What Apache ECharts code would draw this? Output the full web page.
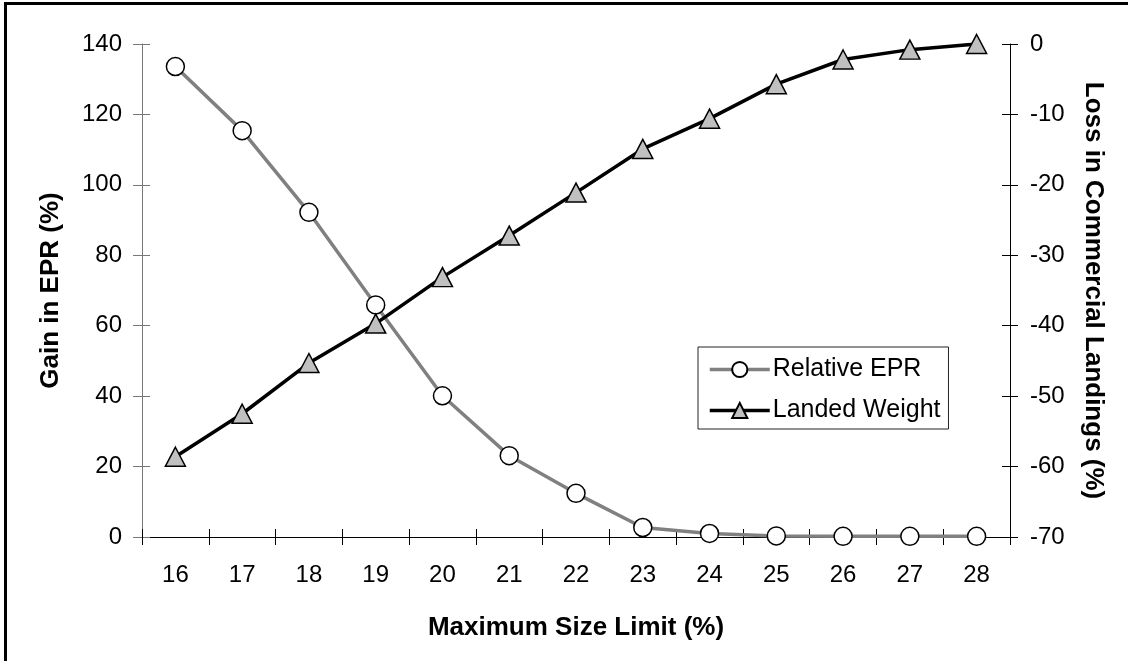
<!DOCTYPE html>
<html>
<head>
<meta charset="utf-8">
<script src="https://cdn.jsdelivr.net/npm/echarts@6/dist/echarts.min.js"></script>
<style>
html,body{margin:0;padding:0;background:#fff;}
#chart{width:1128px;height:661px;}
</style>
</head>
<body>
<div id="chart"></div>
<script>
const categories = ['16','17','18','19','20','21','22','23','24','25','26','27','28'];
const relativeEPR = [133.6, 115.4, 92.2, 65.9, 40.1, 23.1, 12.4, 2.7, 1.0, 0.3, 0.2, 0.2, 0.2];
const landedWeight = [-58.6, -52.5, -45.3, -39.7, -33.1, -27.2, -21.1, -14.9, -10.6, -5.7, -2.2, -0.8, 0];
const seriesNames = ['Relative EPR', 'Landed Weight'];

const FONT = 'Liberation Sans, Arial, sans-serif';
const chart = echarts.init(document.getElementById('chart'), null, {renderer: 'canvas'});

const gridPos = {left: 142, right: 118, top: 44, bottom: 124};
const titleStyle = {fontFamily: FONT, fontSize: 26, fontWeight: 'bold', color: '#000'};
const labelStyle = {fontFamily: FONT, fontSize: 24, color: '#000'};

const option = {
  backgroundColor: '#fff',
  animation: false,
  textStyle: {fontFamily: FONT, color: '#000'},
  graphic: [{
    type: 'rect',
    shape: {x: 5.5, y: 3.5, width: 1300, height: 800},
    style: {fill: 'none', stroke: '#000', lineWidth: 3},
    silent: true, z: 100
  }],
  grid: [Object.assign({}, gridPos), Object.assign({}, gridPos)],
  legend: {
    orient: 'vertical',
    left: 698, top: 347,
    data: seriesNames,
    backgroundColor: '#fff',
    borderColor: '#222', borderWidth: 1,
    padding: [10, 8, 6, 10],
    itemWidth: 60, itemHeight: 19, itemGap: 16,
    lineStyle: {width: 3.5},
    textStyle: {fontFamily: FONT, fontSize: 25, lineHeight: 25, color: '#000', padding: [0,0,0,-2]}
  },
  xAxis: [{
    type: 'category', data: categories, boundaryGap: true, gridIndex: 0,
    position: 'bottom',
    axisLine: {lineStyle: {color: '#000', width: 1}},
    axisTick: {show: true, length: 8, lineStyle: {color: '#000'}},
    axisLabel: Object.assign({margin: 26}, labelStyle),
    name: 'Maximum Size Limit (%)', nameLocation: 'middle', nameGap: 78,
    nameTextStyle: titleStyle
  }, {
    type: 'category', data: categories, boundaryGap: true, gridIndex: 1,
    position: 'bottom',
    axisLine: {show: false},
    axisTick: {show: true, inside: true, length: 8, lineStyle: {color: '#000'}},
    axisLabel: {show: false}
  }],
  yAxis: [{
    type: 'value', min: 0, max: 140, interval: 20, position: 'left', gridIndex: 0,
    axisLine: {show: true, lineStyle: {color: '#777', width: 1}},
    axisTick: {show: true, length: 9, lineStyle: {color: '#777'}},
    axisLabel: Object.assign({margin: 20}, labelStyle),
    splitLine: {show: false},
    name: 'Gain in EPR (%)', nameLocation: 'middle', nameGap: 78, nameRotate: 90,
    nameTextStyle: titleStyle
  }, {
    type: 'value', min: -70, max: 0, interval: 10, position: 'right', gridIndex: 0,
    axisLine: {show: true, lineStyle: {color: '#000', width: 1}},
    axisTick: {show: true, length: 8, lineStyle: {color: '#000'}},
    axisLabel: Object.assign({margin: 20}, labelStyle),
    splitLine: {show: false},
    name: 'Loss in Commercial Landings (%)', nameLocation: 'middle', nameGap: 70, nameRotate: -90,
    nameTextStyle: titleStyle
  }, {
    type: 'value', min: 0, max: 140, interval: 20, position: 'left', gridIndex: 1,
    axisLine: {show: false},
    axisTick: {show: true, inside: true, length: 8, lineStyle: {color: '#777'}},
    axisLabel: {show: false}, splitLine: {show: false}
  }, {
    type: 'value', min: -70, max: 0, interval: 10, position: 'right', gridIndex: 1,
    axisLine: {show: false},
    axisTick: {show: true, inside: true, length: 8, lineStyle: {color: '#000'}},
    axisLabel: {show: false}, splitLine: {show: false}
  }],
  series: [{
    name: seriesNames[0], type: 'line', xAxisIndex: 0, yAxisIndex: 0, data: relativeEPR,
    z: 2,
    lineStyle: {color: '#808080', width: 3.5},
    itemStyle: {color: '#fff', borderColor: '#000', borderWidth: 1.5},
    symbol: 'circle', symbolSize: 18, showAllSymbol: true
  }, {
    name: seriesNames[1], type: 'line', xAxisIndex: 0, yAxisIndex: 1, data: landedWeight,
    z: 3,
    lineStyle: {color: '#000', width: 3.5},
    itemStyle: {color: '#c0c0c0', borderColor: '#000', borderWidth: 1.5},
    symbol: 'triangle', symbolSize: [20, 19], showAllSymbol: true
  }]
};
chart.setOption(option);
</script>
</body>
</html>
